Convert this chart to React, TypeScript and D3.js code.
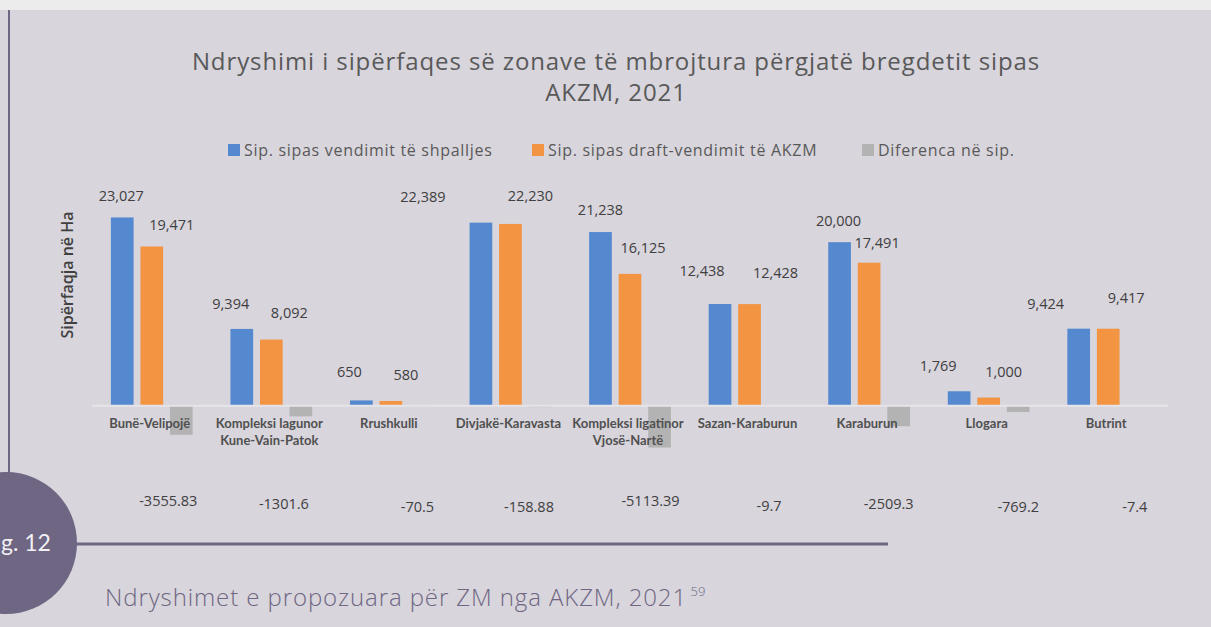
import React from "react";
import * as d3 from "d3";

const categories: string[][] = [
  ["Bunë-Velipojë"],
  ["Kompleksi lagunor", "Kune-Vain-Patok"],
  ["Rrushkulli"],
  ["Divjakë-Karavasta"],
  ["Kompleksi ligatinor", "Vjosë-Nartë"],
  ["Sazan-Karaburun"],
  ["Karaburun"],
  ["Llogara"],
  ["Butrint"],
];
const seriesNames = [
  "Sip. sipas vendimit të shpalljes",
  "Sip. sipas draft-vendimit të AKZM",
  "Diferenca në sip.",
];
const blueValues = [23027, 9394, 650, 22389, 21238, 12438, 20000, 1769, 9424];
const orangeValues = [19471, 8092, 580, 22230, 16125, 12428, 17491, 1000, 9417];
const diffValues = [-3555.83, -1301.6, -70.5, -158.88, -5113.39, -9.7, -2509.3, -769.2, -7.4];

// hand-placed label nudges (relative to bar), as in the source chart
const blueNudge: [number, number][] = [[-1, -16], [-11, -20], [-12, -23], [-58, -21], [0, -17], [-18, -28], [-1, -16], [-21, -20], [-33, -20]];
const orangeNudge: [number, number][] = [[20, -17], [18, -22], [15, -21], [20, -23], [13, -21], [26, -26], [8, -15], [15, -21], [18, -26]];
const diffNudge: [number, number][] = [[-13, 0], [-17, 3], [-3, 6], [-11, 6], [-9, 0], [-10, 5], [-10, 3], [0, 6], [-3, 6]];

const colors = ["#5589cf", "#f29441", "#b3b3b3"];
const W = 1211;
const H = 627;
const fmt = d3.format(",");

export default function App() {
  const x = d3.scaleBand<number>().domain(d3.range(categories.length)).range([92, 1168]).padding(0);
  const xs = d3
    .scaleBand<number>()
    .domain([0, 1, 2])
    .range([0, x.bandwidth()])
    .paddingInner(0.232)
    .paddingOuter(0.64);
  const y = d3.scaleLinear().domain([-6000, 25000]).range([454.8, 201.3]);
  const y0 = y(0);
  const series = [blueValues, orangeValues, diffValues];
  const textColor = "#404040";
  const legendX = [228, 532, 862];

  return (
    <svg width={W} height={H} style={{ position: "absolute", left: 0, top: 0 }}>
      <rect x={0} y={0} width={W} height={H} fill="#ececec" />
      <rect x={0} y={10} width={W} height={H - 10} fill="#d8d5dc" />
      <line x1={9} x2={9} y1={10} y2={480} stroke="#6e6682" strokeWidth={2} />

      {/* title */}
      <text x={616} y={70} textAnchor="middle" fontFamily="'Open Sans', sans-serif" fontSize={24} letterSpacing={0.9} fill="#595959">
        Ndryshimi i sipërfaqes së zonave të mbrojtura përgjatë bregdetit sipas
      </text>
      <text x={616} y={101} textAnchor="middle" fontFamily="'Open Sans', sans-serif" fontSize={24} letterSpacing={0.9} fill="#595959">
        AKZM, 2021
      </text>

      {/* legend */}
      {seriesNames.map((n, i) => (
        <g key={n} transform={`translate(${legendX[i]},0)`}>
          <rect x={0} y={144} width={12} height={12} fill={colors[i]} />
          <text x={16} y={156} fontFamily="'Open Sans', sans-serif" fontSize={16} letterSpacing={0.7} fill="#595959">
            {n}
          </text>
        </g>
      ))}

      {/* y axis title */}
      <text
        transform={`translate(73,275) rotate(-90)`}
        textAnchor="middle"
        fontFamily="'Open Sans', sans-serif"
        fontWeight={600}
        fontSize={16}
        fill={textColor}
      >
        Sipërfaqja në Ha
      </text>

      {/* bars */}
      {series.map((vals, s) =>
        vals.map((v, i) => {
          const bx = (x(i) as number) + (xs(s) as number);
          const top = Math.min(y(v), y0);
          const h = Math.abs(y(v) - y0);
          return <rect key={`b${s}-${i}`} x={bx} y={top} width={xs.bandwidth()} height={h} fill={colors[s]} />;
        })
      )}

      {/* zero line */}
      <line x1={92} x2={1168} y1={y0} y2={y0} stroke="#e6e4e8" strokeWidth={2} />

      {/* value labels */}
      {[blueValues, orangeValues].map((vals, s) =>
        vals.map((v, i) => {
          const nud = s === 0 ? blueNudge[i] : orangeNudge[i];
          const cx = (x(i) as number) + (xs(s) as number) + xs.bandwidth() / 2;
          return (
            <text
              key={`l${s}-${i}`}
              x={cx + nud[0]}
              y={y(v) + nud[1]}
              textAnchor="middle"
              fontFamily="'Open Sans', sans-serif"
              fontSize={14.5}
              fill={textColor}
            >
              {fmt(v)}
            </text>
          );
        })
      )}

      {/* category labels */}
      {categories.map((lines, i) => {
        const cx = (x(i) as number) + x.bandwidth() / 2 - 2;
        return (
          <text
            key={`c${i}`}
            x={cx}
            y={428}
            textAnchor="middle"
            fontFamily="Lato, sans-serif"
            fontWeight={700}
            fontSize={13}
            fill="#505050"
          >
            {lines.map((l, j) => (
              <tspan key={j} x={cx} dy={j === 0 ? 0 : 17}>
                {l}
              </tspan>
            ))}
          </text>
        );
      })}

      {/* diff labels */}
      {diffValues.map((v, i) => {
        const cx = (x(i) as number) + (xs(2) as number) + xs.bandwidth() / 2;
        return (
          <text
            key={`d${i}`}
            x={cx + diffNudge[i][0]}
            y={y0 + 100 + diffNudge[i][1]}
            textAnchor="middle"
            fontFamily="'Open Sans', sans-serif"
            fontSize={14.5}
            fill={textColor}
          >
            {String(v)}
          </text>
        );
      })}

      {/* footer */}
      <line x1={70} x2={888} y1={544} y2={544} stroke="#6e6682" strokeWidth={3} />
      <circle cx={6} cy={543} r={71} fill="#6e6682" />
      <text x={1} y={551} fontFamily="Lato, sans-serif" fontSize={23} fill="#f2f0f4">
        g. 12
      </text>
      <text x={105} y={606} fontFamily="'Open Sans', sans-serif" fontWeight={300} fontSize={24} letterSpacing={0.9} fill="#6e6682">
        Ndryshimet e propozuara për ZM nga AKZM, 2021
        <tspan dy={-10} fontSize={13} letterSpacing={0}> 59</tspan>
      </text>
    </svg>
  );
}
